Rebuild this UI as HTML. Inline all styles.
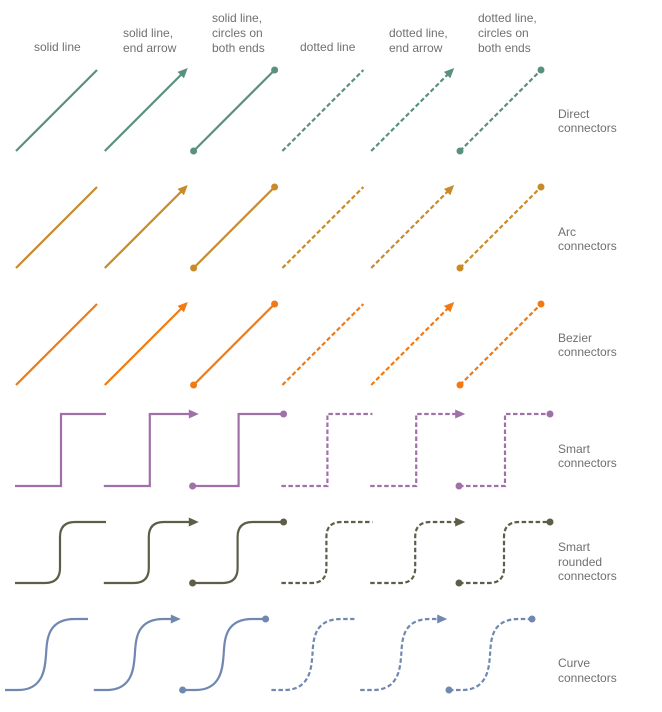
<!DOCTYPE html>
<html><head><meta charset="utf-8"><style>
body{margin:0;background:#fff;}
svg text{font-family:"Liberation Sans",sans-serif;font-size:12px;fill:#707070;}
</style></head><body>
<svg id="s" width="662" height="707" xmlns="http://www.w3.org/2000/svg">
<g>
<text x="34" y="51">solid line</text>
<text x="123" y="37">solid line,</text><text x="123" y="52">end arrow</text>
<text x="212" y="22">solid line,</text><text x="212" y="37">circles on</text><text x="212" y="52">both ends</text>
<text x="300" y="51">dotted line</text>
<text x="389" y="37">dotted line,</text><text x="389" y="52">end arrow</text>
<text x="478" y="22">dotted line,</text><text x="478" y="37">circles on</text><text x="478" y="52">both ends</text>
<text x="558" y="118">Direct</text><text x="558" y="132">connectors</text>
<text x="558" y="236">Arc</text><text x="558" y="250">connectors</text>
<text x="558" y="342">Bezier</text><text x="558" y="356">connectors</text>
<text x="558" y="453">Smart</text><text x="558" y="467">connectors</text>
<text x="558" y="551">Smart</text><text x="558" y="566">rounded</text><text x="558" y="580">connectors</text>
<text x="558" y="667">Curve</text><text x="558" y="682">connectors</text>
</g>
</svg>
<script>
var s=document.getElementById('s'),ns='http://www.w3.org/2000/svg';
function el(t,a){var e=document.createElementNS(ns,t);for(var k in a)e.setAttribute(k,a[k]);s.appendChild(e);return e;}
var rows=[
 {c:'#5a9080',f:function(x){return {d:'M'+(x+16)+' 151 L'+(x+97)+' 70',s:[x+16,151],e:[x+97,70],ang:-45};}},
 {c:'#c98a2a',f:function(x){return {d:'M'+(x+16)+' 268 L'+(x+97)+' 187',s:[x+16,268],e:[x+97,187],ang:-45};}},
 {c:'#f07a14',f:function(x){return {d:'M'+(x+16)+' 385 L'+(x+97)+' 304',s:[x+16,385],e:[x+97,304],ang:-45};}},
 {c:'#a070a8',f:function(x){return {d:'M'+(x+15)+' 486 H'+(x+61)+' V414 H'+(x+106),s:[x+15,486],e:[x+106,414],ang:0};}},
 {c:'#5e5e48',f:function(x){return {d:'M'+(x+15)+' 583 H'+(x+45)+' Q'+(x+60)+' 583 '+(x+60)+' 568 V537 Q'+(x+60)+' 522 '+(x+75)+' 522 H'+(x+106),s:[x+15,583],e:[x+106,522],ang:0};}},
 {c:'#7088b0',f:function(x){return {d:'M'+(x+5)+' 690 H'+(x+18)+' C'+(x+45)+' 690 '+(x+45)+' 665 '+(x+46)+' 655 C'+(x+47)+' 640 '+(x+47)+' 619 '+(x+75)+' 619 H'+(x+88),s:[x+5,690],e:[x+88,619],ang:0};}}
];
rows.forEach(function(r){
 for(var i=0;i<6;i++){
  var x=i*88.8, g=r.f(x), dashed=i>=3, type=i%3;
  var p=el('path',{d:g.d,fill:'none',stroke:r.c,'stroke-width':2.2});
  if(dashed)p.setAttribute('stroke-dasharray','4.5,2.5');
  if(type==1){
   var a=g.ang*Math.PI/180,ex=g.e[0],ey=g.e[1];
   if(g.ang==0){ex+=4;}else{ex+=2;ey-=2;}
   var L=10,W=4.5,bx=ex-L*Math.cos(a),by=ey-L*Math.sin(a),nx=-Math.sin(a),ny=Math.cos(a);
   el('polygon',{points:ex+','+ey+' '+(bx+W*nx)+','+(by+W*ny)+' '+(bx-W*nx)+','+(by-W*ny),fill:r.c});
  }
  if(type==2){
   el('circle',{cx:g.s[0],cy:g.s[1],r:3.5,fill:r.c});
   el('circle',{cx:g.e[0],cy:g.e[1],r:3.5,fill:r.c});
  }
 }
});
</script>
</body></html>
